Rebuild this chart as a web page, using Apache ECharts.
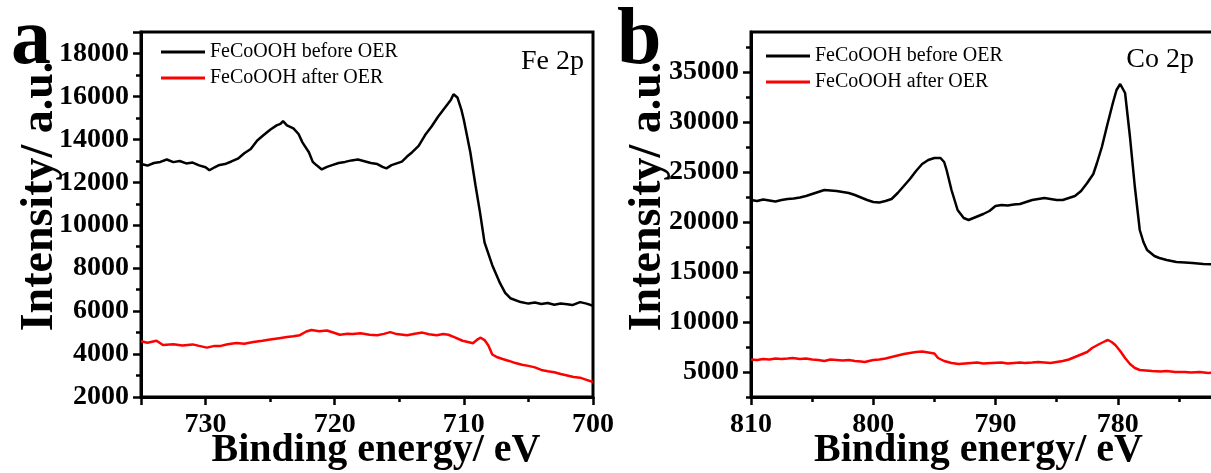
<!DOCTYPE html>
<html>
<head>
<meta charset="utf-8">
<script src="https://cdn.jsdelivr.net/npm/echarts@6/dist/echarts.min.js"></script>
<style>
html,body{margin:0;padding:0;background:#fff;}
#chart{width:1211px;height:473px;}
</style>
</head>
<body>
<div id="chart"></div>
<script>
// ---------- DATA ----------
const seriesNames = ['FeCoOOH before OER', 'FeCoOOH after OER'];

// Panel a: Fe 2p
const feBeforeE = [735,734.5,734,733.5,733,732.5,732,731.5,731,730.5,730,729.7,729.3,729,728.5,728,727.5,727,726.5,726,725.5,725,724.5,724.2,724,723.7,723.2,722.8,722.5,722,721.7,721.4,721,720.6,720.2,719.7,719.2,718.7,718.2,717.7,717.2,716.7,716.3,716,715.6,715.2,714.8,714.4,714,713.5,713,712.5,712,711.5,711,710.8,710.5,710.2,710,709.5,709.1,708.75,708.4,707.8,707.2,706.8,706.4,705.6,705,704.5,704,703.5,703,702.5,702,701.6,701,700.5,700];
const feBefore = [12850,12780,12900,12950,13060,12940,12990,12880,12920,12790,12700,12560,12700,12790,12850,12970,13100,13350,13550,13950,14200,14450,14650,14720,14850,14650,14510,14250,13860,13400,12950,12790,12600,12720,12800,12900,12950,13020,13060,12980,12900,12850,12720,12650,12800,12880,12960,13200,13400,13700,14200,14600,15050,15450,15850,16100,15950,15400,14900,13400,11860,10600,9200,8140,7300,6850,6600,6420,6350,6400,6330,6380,6300,6350,6320,6280,6420,6350,6250];
const feAfterE = [735,734.5,733.8,733.3,732.5,731.8,731,730.5,729.9,729.3,728.9,728.3,727.6,727,726.3,725.6,725,724.3,723.7,723.2,722.7,722.2,721.8,721.2,720.6,720,719.6,719,718.6,718,717.3,716.7,716.2,715.7,715.2,714.4,713.8,713.2,712.7,712.1,711.6,711.2,710.7,710.1,709.6,709.3,708.9,708.7,708.4,708.1,707.8,707.4,707,706.5,706,705.5,705,704.5,704,703.5,703,702.5,702,701.5,701,700.5,700];
const feAfter = [4600,4530,4620,4420,4460,4400,4450,4380,4300,4380,4370,4460,4520,4480,4560,4620,4680,4740,4790,4830,4880,5050,5120,5060,5100,4980,4900,4950,4930,4970,4900,4880,4940,5020,4930,4880,4950,5000,4920,4880,4930,4900,4780,4620,4550,4500,4700,4760,4650,4400,3980,3850,3770,3680,3580,3500,3450,3380,3260,3200,3150,3070,3000,2930,2900,2800,2700];

// Panel b: Co 2p
const coBeforeE = [810,809.5,809,808.5,808,807.5,807,806.5,806,805.5,805,804.5,804,803.5,803,802.5,802,801.5,801,800.5,800,799.5,799,798.5,798,797.5,797,796.5,796,795.5,795,794.5,794.2,794,793.6,793.1,792.6,792.2,791.6,791,790.5,790,789.5,789,788.5,788,787.5,787,786.5,786,785.5,785,784.5,784,783.5,783,782.5,782,781.7,781.3,780.9,780.4,780.1,779.8,779.4,779,778.6,778.2,777.9,777.6,777,776.6,776,775.2,774.5,773.9,773,772,771];
const coBefore = [22200,22100,22250,22150,22050,22200,22300,22350,22450,22600,22800,23000,23200,23150,23100,23000,22900,22700,22450,22200,22000,21950,22100,22300,22900,23600,24300,25100,25800,26200,26400,26400,26000,25200,23200,21200,20400,20200,20500,20800,21100,21600,21700,21650,21750,21800,22000,22200,22300,22400,22300,22200,22200,22400,22600,23100,23900,24800,25900,27500,29500,31900,33200,33800,32900,28500,23500,19200,18000,17200,16600,16400,16200,16000,15950,15900,15800,15750,15700];
const coAfterE = [810,809.5,809,808.5,808,807.5,807,806.6,806,805.5,805,804.5,804,803.5,803,802.5,802,801.5,801,800.7,800,799.5,799,798.5,798,797.5,797,796.5,796,795.5,795,794.7,794.2,793.6,793,792.5,792,791.5,791,790.3,789.5,789,788.5,788,787.6,787,786.5,786,785.5,785,784.5,784,783.5,783,782.5,782.1,781.5,781,780.8,780.5,780.2,779.8,779.4,779,778.6,778.2,777.7,777.2,776.5,776,775.3,774.5,774,773.3,772.6,772,771];
const coAfter = [6250,6200,6300,6250,6350,6300,6350,6400,6300,6350,6250,6200,6100,6250,6200,6150,6200,6100,6050,6000,6200,6250,6350,6500,6650,6800,6900,7000,7050,6950,6850,6400,6100,5900,5800,5850,5900,5950,5850,5900,5950,5850,5900,5950,5900,5950,6000,5950,5900,6000,6100,6250,6500,6750,7000,7400,7800,8100,8200,8000,7700,7100,6400,5800,5400,5200,5150,5100,5050,5100,5000,5000,4950,5000,4900,4950,4900];

// Tick values
const coYLabels = [5000,10000,15000,20000,25000,30000,35000];
const coYMinor = [2500,7500,12500,17500,22500,27500,32500,37500];

// ---------- CHART ----------
const FONT = '"Liberation Serif", "Times New Roman", serif';
const zip = (xs, ys) => xs.slice(0, Math.min(xs.length, ys.length)).map((x, i) => [x, ys[i]]);
const plain = v => String(v);

const axisLine = {show: true, lineStyle: {color: '#000', width: 3}};
const tickLbl = {color: '#000', fontFamily: FONT, fontWeight: 'bold', fontSize: 28, formatter: plain};
const xNameStyle = {color: '#000', fontFamily: FONT, fontWeight: 'bold', fontSize: 40};
const yNameStyle = {color: '#000', fontFamily: FONT, fontWeight: 'bold', fontSize: 46};

function xAx(gi, min, max, pad, extraLbl) {
  return {
    type: 'value', gridIndex: gi, min: min, max: max, interval: 10, inverse: true,
    axisLine: axisLine,
    axisTick: {show: true, inside: false, length: 8, lineStyle: {color: '#000', width: 2.5}},
    minorTick: {show: true, splitNumber: 2, length: 5, lineStyle: {color: '#000', width: 2.5}},
    splitLine: {show: false}, minorSplitLine: {show: false},
    axisLabel: Object.assign({margin: 14}, tickLbl, extraLbl || {}),
    name: 'Binding energy/ eV', nameLocation: 'middle', nameGap: 34, nameMoveOverlap: false,
    nameTextStyle: Object.assign({padding: pad}, xNameStyle)
  };
}

const option = {
  backgroundColor: '#fff',
  animation: false,
  grid: [
    {left: 141, top: 32, width: 452, height: 365, outerBoundsMode: 'none', containLabel: false,
     show: true, borderColor: '#000', borderWidth: 3, backgroundColor: 'transparent'},
    {left: 751, top: 32, width: 489, height: 365, outerBoundsMode: 'none', containLabel: false,
     show: true, borderColor: '#000', borderWidth: 3, backgroundColor: 'transparent'}
  ],
  xAxis: [
    xAx(0, 700, 735, [0, 0, 0, 18], {showMaxLabel: false}),
    xAx(1, 770, 810, [0, 34, 0, 0], {showMinLabel: false})
  ],
  yAxis: [
    {
      type: 'value', gridIndex: 0, min: 2000, max: 19000, interval: 2000,
      axisLine: axisLine,
      axisTick: {show: true, length: 8, lineStyle: {color: '#000', width: 2.5}},
      minorTick: {show: true, splitNumber: 2, length: 5, lineStyle: {color: '#000', width: 2.5}},
      splitLine: {show: false}, minorSplitLine: {show: false},
      axisLabel: Object.assign({margin: 12}, tickLbl),
      name: 'Intensity/ a.u.', nameLocation: 'middle', nameGap: 78, nameMoveOverlap: false,
      nameTextStyle: Object.assign({padding: [0, 0, 0, 36]}, yNameStyle)
    },
    {
      type: 'value', gridIndex: 1, min: 2500, max: 39000,
      axisLine: axisLine,
      axisTick: {show: true, length: 8, customValues: coYLabels, lineStyle: {color: '#000', width: 2.5}},
      splitLine: {show: false},
      axisLabel: Object.assign({margin: 12, customValues: coYLabels}, tickLbl),
      name: 'Intensity/ a.u.', nameLocation: 'middle', nameGap: 80, nameMoveOverlap: false,
      nameTextStyle: Object.assign({padding: [0, 0, 0, 36]}, yNameStyle)
    },
    {
      type: 'value', gridIndex: 1, min: 2500, max: 39000, position: 'left',
      axisLine: {show: false},
      axisTick: {show: true, length: 5, customValues: coYMinor, lineStyle: {color: '#000', width: 2.5}},
      axisLabel: {show: false}, splitLine: {show: false}
    }
  ],
  legend: [
    {left: 156, top: 37, orient: 'vertical', icon: 'rect', itemWidth: 44, itemHeight: 3, itemGap: 6,
     data: seriesNames, textStyle: {fontFamily: FONT, fontSize: 20, color: '#000'}},
    {left: 761, top: 41, orient: 'vertical', icon: 'rect', itemWidth: 44, itemHeight: 3, itemGap: 6,
     data: seriesNames, textStyle: {fontFamily: FONT, fontSize: 20, color: '#000'}}
  ],
  graphic: [
    {type: 'text', left: 11, top: 2, style: {text: 'a', font: 'bold 80px ' + FONT, fill: '#000'}},
    {type: 'text', left: 617, top: 2, style: {text: 'b', font: 'bold 80px ' + FONT, fill: '#000'}},
    {type: 'text', right: 1211 - 584, top: 48, style: {text: 'Fe 2p', font: '28px ' + FONT, fill: '#000'}},
    {type: 'text', right: 1211 - 1194, top: 46, style: {text: 'Co 2p', font: '28px ' + FONT, fill: '#000'}}
  ],
  series: [
    {name: seriesNames[0], type: 'line', xAxisIndex: 0, yAxisIndex: 0, showSymbol: false, symbol: 'none',
     lineStyle: {color: '#000', width: 2.5}, itemStyle: {color: '#000'}, data: zip(feBeforeE, feBefore)},
    {name: seriesNames[1], type: 'line', xAxisIndex: 0, yAxisIndex: 0, showSymbol: false, symbol: 'none',
     lineStyle: {color: '#f00', width: 2.5}, itemStyle: {color: '#f00'}, data: zip(feAfterE, feAfter)},
    {name: seriesNames[0], type: 'line', xAxisIndex: 1, yAxisIndex: 1, showSymbol: false, symbol: 'none',
     lineStyle: {color: '#000', width: 2.5}, itemStyle: {color: '#000'}, data: zip(coBeforeE, coBefore)},
    {name: seriesNames[1], type: 'line', xAxisIndex: 1, yAxisIndex: 1, showSymbol: false, symbol: 'none',
     lineStyle: {color: '#f00', width: 2.5}, itemStyle: {color: '#f00'}, data: zip(coAfterE, coAfter)}
  ]
};

const chart = echarts.init(document.getElementById('chart'), null, {renderer: 'canvas'});
chart.setOption(option);
</script>
</body>
</html>
